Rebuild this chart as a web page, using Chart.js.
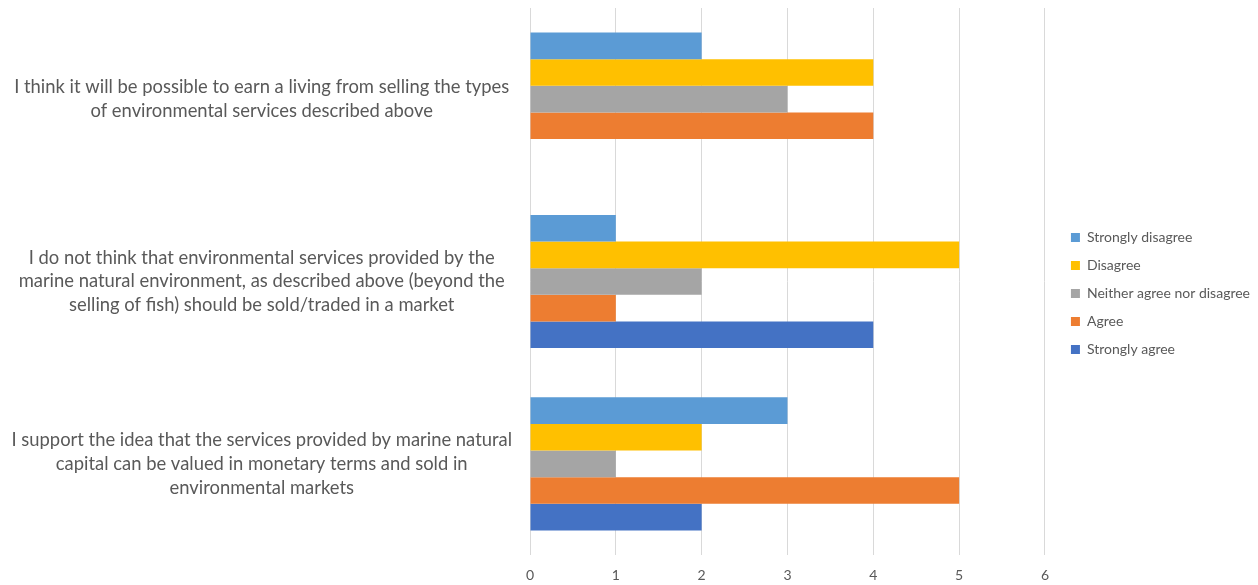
<!DOCTYPE html>
<html>
<head>
<meta charset="utf-8">
<script src="https://cdn.jsdelivr.net/npm/chart.js@4"></script>
<style>
  html, body { margin: 0; padding: 0; background: #fff; }
  #wrap { width: 1258px; height: 585px; }
</style>
</head>
<body>
<div id="wrap"><canvas id="surveyChart"></canvas></div>
<script>
// Category labels (top to bottom), split into lines like the original
const questions = [
    ['I think it will be possible to earn a living from selling the types', 'of environmental services described above'],
    ['I do not think that environmental services provided by the', 'marine natural environment, as described above (beyond the', 'selling of fish) should be sold/traded in a market'],
    ['I support the idea that the services provided by marine natural', 'capital can be valued in monetary terms and sold in', 'environmental markets']
];

// Answer counts per question (same order as questions)
const stronglyDisagree = [2, 1, 3];
const disagree = [4, 5, 2];
const neither = [3, 2, 1];
const agree = [4, 1, 5];
const stronglyAgree = [null, 4, 2];

const xTicks = [0, 1, 2, 3, 4, 5, 6];

const font = "Lato, 'Open Sans', sans-serif";

// nudge the legend a bit to the right of the plot, like the original
const legendInset = {
    id: 'legendInset',
    afterLayout(chart) {
        chart.legend.left += 12;
        chart.legend.right += 12;
        chart.legend.top -= 3;
        chart.legend.bottom -= 3;
    }
};

const ctx = document.getElementById('surveyChart').getContext('2d');
const surveyChart = new Chart(ctx, {
    type: 'bar',
    data: {
        labels: questions,
        datasets: [
            { label: 'Strongly disagree', data: stronglyDisagree, backgroundColor: '#5B9BD5' },
            { label: 'Disagree', data: disagree, backgroundColor: '#FFC000' },
            { label: 'Neither agree nor disagree', data: neither, backgroundColor: '#A5A5A5' },
            { label: 'Agree', data: agree, backgroundColor: '#ED7D31' },
            { label: 'Strongly agree', data: stronglyAgree, backgroundColor: '#4472C4' }
        ]
    },
    plugins: [legendInset],
    options: {
        indexAxis: 'y',
        responsive: true,
        maintainAspectRatio: false,
        animation: false,
        categoryPercentage: 0.73,
        barPercentage: 1.0,
        layout: {
            padding: { top: 8, left: 0, right: 10, bottom: 0 }
        },
        scales: {
            x: {
                min: 0,
                max: 6,
                afterBuildTicks: function(axis) {
                    axis.ticks = xTicks.map(v => ({ value: v }));
                },
                afterFit: function(axis) {
                    axis.height = 30;
                },
                grid: { color: '#d9d9d9', lineWidth: 1, drawTicks: false },
                border: { display: false },
                ticks: {
                    padding: 12,
                    color: '#595959',
                    font: { family: font, size: 14 }
                }
            },
            y: {
                afterFit: function(axis) {
                    // wide label column, no extra space above/below the bars
                    axis.width = 530;
                    axis.paddingTop = 0;
                    axis.paddingBottom = 0;
                },
                grid: { display: false, drawTicks: false },
                border: { display: false },
                ticks: {
                    crossAlign: 'center',
                    padding: 18,
                    color: '#595959',
                    font: { family: font, size: 18.4, lineHeight: 1.3 }
                }
            }
        },
        plugins: {
            tooltip: { enabled: false },
            legend: {
                position: 'right',
                labels: {
                    boxWidth: 9,
                    boxHeight: 9,
                    padding: 14,
                    color: '#595959',
                    font: { family: font, size: 14 }
                }
            }
        }
    }
});
</script>
</body>
</html>
